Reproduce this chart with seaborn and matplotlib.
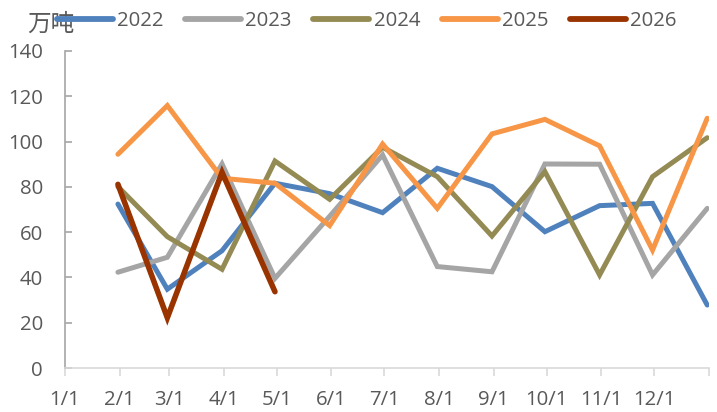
import matplotlib
matplotlib.use("Agg")
import matplotlib.pyplot as plt
import seaborn as sns
import pandas as pd
import numpy as np

# ---- data ----
dates = ["2023-01-31", "2023-02-28", "2023-03-31", "2023-04-30", "2023-05-31", "2023-06-30",
         "2023-07-31", "2023-08-31", "2023-09-30", "2023-10-31", "2023-11-30", "2023-12-31"]
y2022 = [72.4, 34.8, 51.8, 81.6, 77.0, 68.6, 88.2, 80.1, 60.2, 71.7, 72.7, 27.8]
y2023 = [42.3, 48.9, 90.1, 39.6, 67.0, 94.1, 44.8, 42.5, 90.1, 90.0, 41.1, 70.5]
y2024 = [80.1, 58.0, 43.6, 91.4, 74.5, 97.5, 84.5, 58.3, 86.7, 41.1, 84.5, 101.7]
y2025 = [94.4, 115.9, 83.8, 81.6, 62.9, 98.9, 70.5, 103.4, 109.8, 98.1, 52.1, 110.3]
y2026 = [81.1, 22.2, 86.4, 33.7]
series_names = ["2022", "2023", "2024", "2025", "2026"]
tick_dates = ["2023-01-01", "2023-02-01", "2023-03-01", "2023-04-01", "2023-05-01", "2023-06-01",
              "2023-07-01", "2023-08-01", "2023-09-01", "2023-10-01", "2023-11-01", "2023-12-01",
              "2024-01-01"]
tick_labels = ["1/1", "2/1", "3/1", "4/1", "5/1", "6/1", "7/1", "8/1", "9/1", "10/1", "11/1", "12/1", ""]
unit_label = "万吨"

colors = {"2022": "#4f81bd", "2023": "#a5a5a5", "2024": "#948a54", "2025": "#f79646", "2026": "#993300"}

rows = []
for name, vals in zip(series_names, [y2022, y2023, y2024, y2025, y2026]):
    for d, v in zip(dates, vals):
        rows.append({"date": pd.Timestamp(d), "value": v, "year": name})
df = pd.DataFrame(rows)

sns.set_theme(style="white")
plt.rcParams["font.family"] = ["Open Sans", "DejaVu Sans"]

W, H = 717, 412
fig = plt.figure(figsize=(W / 100, H / 100), dpi=100)
ax = fig.add_axes([65 / W, (H - 368) / H, (709 - 65) / W, (368 - 51) / H])

sns.lineplot(data=df, x="date", y="value", hue="year", hue_order=series_names,
             palette=colors, ax=ax, linewidth=3.6, legend=False, sort=True)
for ln in ax.get_lines():
    ln.set_solid_capstyle("round")
    ln.set_solid_joinstyle("miter")
ax.get_lines()[-1].set_linewidth(4.0)

ax.set_xlim(pd.Timestamp(tick_dates[0]), pd.Timestamp(tick_dates[-1]))
ax.set_ylim(0, 140)
ax.set_yticks(np.arange(0, 141, 20))
ax.set_xticks([pd.Timestamp(t) for t in tick_dates])
ax.set_xticklabels(tick_labels)
ax.set_xlabel("")
ax.set_ylabel("")

for s in ["top", "right"]:
    ax.spines[s].set_visible(False)
ax.spines["left"].set_color("#a6a6a6")
ax.spines["left"].set_linewidth(1.2)
ax.spines["bottom"].set_color("#d9d9d9")
ax.spines["bottom"].set_linewidth(1.2)

ax.tick_params(axis="y", direction="in", length=5, width=1.2, color="#a6a6a6",
               labelsize=14.7, labelcolor="#595959", pad=16, left=True)
ax.tick_params(axis="x", direction="out", length=6, width=1.2, color="#d9d9d9",
               labelsize=14.7, labelcolor="#595959", pad=10, bottom=True)

from matplotlib.lines import Line2D
handles = [Line2D([0], [0], color=colors[n], lw=4.2, solid_capstyle="round") for n in series_names]
leg = fig.legend(handles, series_names, loc="center left", bbox_to_anchor=(57 / W, 1 - 21 / H),
                 ncol=5, frameon=False, fontsize=14.7, handlelength=2.75, handletextpad=0.2,
                 columnspacing=1.05, borderpad=0, borderaxespad=0)
for t in leg.get_texts():
    t.set_color("#595959")

fig.text(27 / W, 1 - 24 / H, unit_label, fontsize=17, color="#595959", va="center", ha="left",
         family=["Noto Sans CJK SC", "DejaVu Sans"], zorder=0)

fig.savefig("out.png", dpi=100)
